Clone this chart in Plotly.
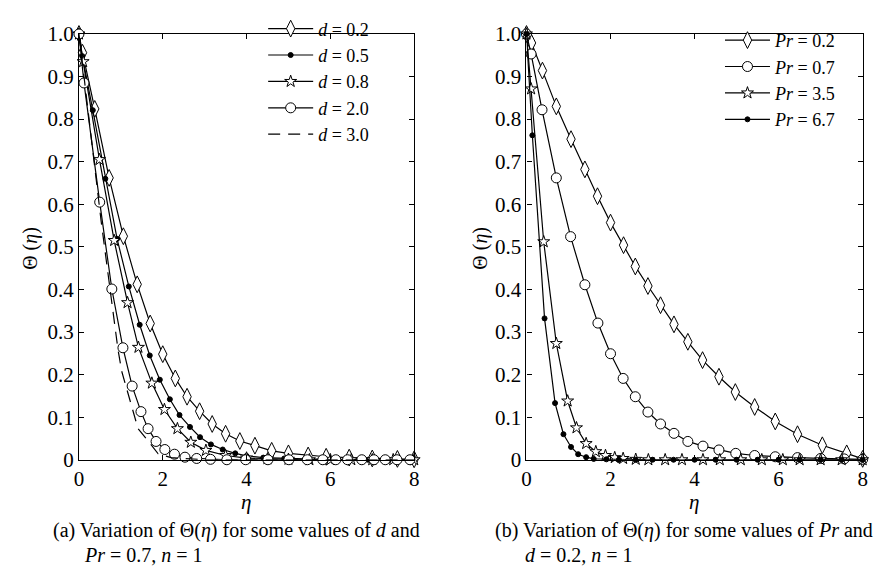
import plotly.graph_objects as go

# ---------- Panel (a): Θ(η) for several d, Pr = 0.7, n = 1 ----------
eta_d02 = [0, 0.085, 0.377, 0.72, 1.06, 1.39, 1.70, 2.00, 2.30, 2.58, 2.88, 3.18, 3.50, 3.84,
           4.20, 4.60, 5.00, 5.47, 5.90, 6.45, 7.00, 7.60, 8.00]
theta_d02 = [1.0, 0.956, 0.824, 0.662, 0.525, 0.412, 0.320, 0.248, 0.191, 0.148, 0.114, 0.084, 0.061, 0.044,
             0.033, 0.021, 0.015, 0.010, 0.007, 0.005, 0.003, 0.002, 0.001]

eta_d05 = [0, 0.08, 0.33, 0.63, 0.91, 1.19, 1.45, 1.69, 1.93, 2.17, 2.40, 2.65, 2.89, 3.15, 3.43, 3.73,
           4.00, 4.40, 4.90, 5.40, 5.90, 6.40, 6.90, 7.40, 7.90]
theta_d05 = [1.0, 0.948, 0.821, 0.660, 0.519, 0.407, 0.317, 0.245, 0.188, 0.142, 0.105, 0.077, 0.053, 0.036, 0.024, 0.015,
             0.009, 0.005, 0.003, 0.002, 0.001, 0.001, 0.0, 0.0, 0.0]

eta_d08 = [0, 0.10, 0.49, 0.84, 1.16, 1.42, 1.74, 2.04, 2.35, 2.67, 3.03, 3.50, 4.00, 4.50, 5.00,
           5.50, 6.00, 6.50, 7.00, 7.50, 8.00]
theta_d08 = [1.0, 0.935, 0.705, 0.515, 0.369, 0.264, 0.180, 0.118, 0.073, 0.041, 0.022, 0.010, 0.004, 0.002, 0.001,
             0.0, 0.0, 0.0, 0.0, 0.0, 0.0]

eta_d20 = [0, 0.12, 0.495, 0.785, 1.05, 1.27, 1.48, 1.65, 1.84, 2.05, 2.28, 2.53, 2.81, 3.14, 3.53, 3.98,
           4.51, 5.01, 5.45, 5.82, 6.13, 6.41, 6.75, 7.04, 7.31, 7.59, 7.90]
theta_d20 = [1.0, 0.885, 0.605, 0.401, 0.263, 0.173, 0.113, 0.073, 0.043, 0.024, 0.013, 0.006, 0.003, 0.001, 0.0, 0.0,
             0.0, 0.0, 0.0, 0.0, 0.0, 0.0, 0.0, 0.0, 0.0, 0.0, 0.0]

eta_d30 = [0, 0.17, 0.37, 0.53, 0.77, 0.93, 1.02, 1.22, 1.41, 1.65, 1.89, 2.20, 2.60, 3.00, 4.00, 5.00, 6.00, 7.00, 8.00]
theta_d30 = [1.0, 0.86, 0.695, 0.56, 0.38, 0.26, 0.208, 0.14, 0.073, 0.044, 0.014, 0.005, 0.002, 0.0, 0.0, 0.0, 0.0, 0.0, 0.0]

# ---------- Panel (b): Θ(η) for several Pr, d = 0.2, n = 1 ----------
eta_pr02 = [0, 0.12, 0.38, 0.71, 1.06, 1.39, 1.69, 2.00, 2.31, 2.59, 2.89, 3.19, 3.51, 3.84, 4.19, 4.58,
            4.97, 5.43, 5.92, 6.45, 7.04, 7.62, 8.00]
theta_pr02 = [1.0, 0.979, 0.914, 0.830, 0.753, 0.682, 0.619, 0.557, 0.504, 0.454, 0.408, 0.363, 0.318, 0.277, 0.234, 0.195,
              0.159, 0.124, 0.090, 0.060, 0.034, 0.015, 0.002]

eta_pr07 = [0, 0.11, 0.37, 0.71, 1.05, 1.39, 1.70, 2.00, 2.30, 2.59, 2.89, 3.19, 3.51, 3.84, 4.20, 4.58,
            4.98, 5.43, 5.92, 6.45, 7.00, 7.56, 8.00]
theta_pr07 = [1.0, 0.953, 0.822, 0.662, 0.524, 0.411, 0.321, 0.249, 0.191, 0.148, 0.112, 0.084, 0.062, 0.043, 0.032, 0.023,
              0.015, 0.010, 0.007, 0.005, 0.003, 0.002, 0.001]

eta_pr35 = [0, 0.11, 0.41, 0.71, 0.98, 1.19, 1.42, 1.65, 1.88, 2.10, 2.30, 2.60, 2.90, 3.30, 3.70, 4.20,
            4.60, 5.10, 5.60, 6.10, 6.50, 7.00, 7.50, 8.00]
theta_pr35 = [1.0, 0.871, 0.512, 0.273, 0.138, 0.075, 0.038, 0.019, 0.010, 0.005, 0.003, 0.001, 0.0, 0.0, 0.0, 0.0,
              0.0, 0.0, 0.0, 0.0, 0.0, 0.0, 0.0, 0.0]

eta_pr67 = [0, 0.14, 0.43, 0.68, 0.88, 1.06, 1.23, 1.42, 1.60, 1.90, 2.20, 2.60, 3.00, 3.50, 4.00, 4.50,
            5.00, 5.50, 6.00, 6.50, 7.00, 7.50, 8.00]
theta_pr67 = [1.0, 0.762, 0.332, 0.133, 0.060, 0.030, 0.013, 0.006, 0.002, 0.001, 0.0, 0.0, 0.0, 0.0, 0.0, 0.0,
              0.0, 0.0, 0.0, 0.0, 0.0, 0.0, 0.0]

x_ticks = [0, 2, 4, 6, 8]
y_ticks = [0, 0.1, 0.2, 0.3, 0.4, 0.5, 0.6, 0.7, 0.8, 0.9, 1.0]
y_ticktext = ["0", "0.1", "0.2", "0.3", "0.4", "0.5", "0.6", "0.7", "0.8", "0.9", "1.0"]

FONT = "Liberation Serif"
W, H = 892, 572

fig = go.Figure()

def add(x, y, name, symbol, size, xa, ya, legend, dash="solid", mode="lines+markers", filled=False):
    fig.add_trace(go.Scatter(
        x=x, y=y, name=name, mode=mode, xaxis=xa, yaxis=ya, legend=legend,
        line=dict(color="black", width=1.2, dash=dash),
        marker=dict(symbol=symbol, size=size, color="black" if filled else "white",
                    line=dict(color="black", width=1)),
        cliponaxis=False,
    ))

add(eta_d02, theta_d02, "<i>d</i> = 0.2", "diamond-tall", 12, "x", "y", "legend")
add(eta_d05, theta_d05, "<i>d</i> = 0.5", "circle", 5, "x", "y", "legend", filled=True)
add(eta_d08, theta_d08, "<i>d</i> = 0.8", "star", 9, "x", "y", "legend")
add(eta_d20, theta_d20, "<i>d</i> = 2.0", "circle", 10, "x", "y", "legend")
add(eta_d30, theta_d30, "<i>d</i> = 3.0", "circle", 1, "x", "y", "legend", dash="12px,8px", mode="lines")

add(eta_pr02, theta_pr02, "<i>Pr</i> = 0.2", "diamond-tall", 12, "x2", "y2", "legend2")
add(eta_pr07, theta_pr07, "<i>Pr</i> = 0.7", "circle", 10, "x2", "y2", "legend2")
add(eta_pr35, theta_pr35, "<i>Pr</i> = 3.5", "star", 9, "x2", "y2", "legend2")
add(eta_pr67, theta_pr67, "<i>Pr</i> = 6.7", "circle", 5, "x2", "y2", "legend2", filled=True)

axis_common = dict(
    showline=True, linecolor="black", linewidth=1.2, mirror="ticks",
    ticks="inside", ticklen=5, tickcolor="black", tickwidth=1,
    showgrid=False, zeroline=False,
    tickfont=dict(family=FONT, size=21, color="black"),
)

yl0, yl1 = 1 - 459 / H, 1 - 14.6 / H

fig.update_layout(
    width=W, height=H,
    margin=dict(l=0, r=0, t=0, b=0),
    paper_bgcolor="white", plot_bgcolor="white",
    font=dict(family=FONT, size=19, color="black"),
    xaxis=dict(domain=[66.7 / W, 405.7 / W], range=[0, 8], tickvals=x_ticks, anchor="y", **axis_common),
    yaxis=dict(domain=[yl0, yl1], range=[0, 1], tickvals=y_ticks, ticktext=y_ticktext, anchor="x", **axis_common),
    xaxis2=dict(domain=[519.3 / W, 859.3 / W], range=[0, 8], tickvals=x_ticks, anchor="y2", **axis_common),
    yaxis2=dict(domain=[yl0, yl1], range=[0, 1], tickvals=y_ticks, ticktext=y_ticktext, anchor="x2", **axis_common),
    legend=dict(x=253 / W, y=1 + 10 / H, xanchor="left", yanchor="top", bgcolor="rgba(0,0,0,0)",
                font=dict(family=FONT, size=18), itemwidth=45, tracegroupgap=0),
    legend2=dict(x=715 / W, y=1 - 2 / H, xanchor="left", yanchor="top", bgcolor="rgba(0,0,0,0)",
                 font=dict(family=FONT, size=18), itemwidth=45, tracegroupgap=0),
    showlegend=True,
)

def txt(x, y, s, size=19, angle=0, xanchor="center"):
    fig.add_annotation(x=x / W, y=1 - y / H, xref="paper", yref="paper", text=s, showarrow=False,
                       font=dict(family=FONT, size=size, color="black"), textangle=angle,
                       xanchor=xanchor, yanchor="middle")

# axis titles
txt(236, 503, "<i>η</i>", size=21)
txt(689, 503, "<i>η</i>", size=21)
txt(17, 238, "Θ (<i>η</i>)", size=20, angle=-90)
txt(472, 238, "Θ (<i>η</i>)", size=20, angle=-90)

# captions
txt(38, 533, "(a) Variation of Θ(<i>η</i>) for some values of <i>d</i> and", size=20, xanchor="left")
txt(70, 558, "<i>Pr</i> = 0.7, <i>n</i> = 1", size=20, xanchor="left")
txt(485, 533, "(b) Variation of Θ(<i>η</i>) for some values of <i>Pr</i> and", size=20, xanchor="left")
txt(516, 558, "<i>d</i> = 0.2, <i>n</i> = 1", size=20, xanchor="left")

fig.write_html("out.html")
